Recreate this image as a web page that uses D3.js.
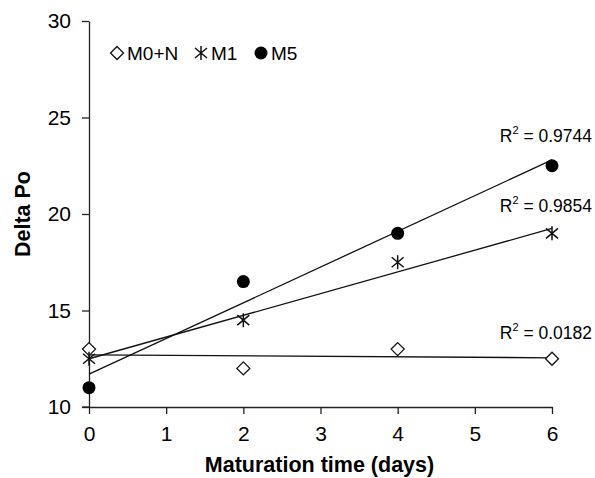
<!DOCTYPE html>
<html>
<head>
<meta charset="utf-8">
<script src="https://cdn.jsdelivr.net/npm/d3@7"></script>
<style>
  body { margin: 0; background: #fff; }
  text { font-family: Arial, "Liberation Sans", sans-serif; fill: #000; }
</style>
</head>
<body>
<div class="container"></div>
<script>
const w = 595;
const h = 478;
const margin = { top: 21, bottom: 71, left: 89, right: 43 };

const days = [0, 2, 4, 6];
const m0n = [13, 12, 13, 12.5];
const m1 = [12.5, 14.5, 17.5, 19];
const m5 = [11, 16.5, 19, 22.5];
const xTicks = [0, 1, 2, 3, 4, 5, 6];
const yTicks = [10, 15, 20, 25, 30];
const r2Labels = ['0.0182', '0.9854', '0.9744'];

const svg = d3.select('.container').append('svg')
    .attr('width', w)
    .attr('height', h);

const x = d3.scaleLinear().domain([0, 6]).range([margin.left, w - margin.right]);
const y = d3.scaleLinear().domain([10, 30]).range([h - margin.bottom, margin.top]);

// axes
const xAxis = svg.append('g')
    .attr('transform', `translate(0,${y(10)})`)
    .call(d3.axisBottom(x).tickValues(xTicks).tickFormat(d3.format('d'))
      .tickSize(7).tickSizeOuter(0).tickPadding(12));
const yAxis = svg.append('g')
    .attr('transform', `translate(${x(0)},0)`)
    .call(d3.axisLeft(y).tickValues(yTicks).tickFormat(d3.format('d'))
      .tickSize(7).tickSizeOuter(0).tickPadding(11));

[xAxis, yAxis].forEach(a => {
  a.attr('font-size', 21);
  a.selectAll('path, line').attr('stroke', '#222').attr('stroke-width', 1.3);
  a.selectAll('text').attr('font-size', 21).attr('fill', '#000');
});
// extend x axis line left to y tick length
svg.append('line')
    .attr('x1', x(0) - 7).attr('x2', x(0))
    .attr('y1', y(10)).attr('y2', y(10))
    .attr('stroke', '#222').attr('stroke-width', 1.3);

svg.append('text')
    .attr('x', x(3) - 1)
    .attr('y', 472)
    .attr('text-anchor', 'middle')
    .attr('font-size', 21.5)
    .attr('font-weight', 'bold')
    .text('Maturation time (days)');

svg.append('text')
    .attr('transform', `translate(30,${y(20)}) rotate(-90)`)
    .attr('text-anchor', 'middle')
    .attr('font-size', 21.5)
    .attr('font-weight', 'bold')
    .text('Delta Po');

// trend lines (least squares)
function fit(ys) {
  const mx = d3.mean(days), my = d3.mean(ys);
  const sxy = d3.sum(days, (d, i) => (d - mx) * (ys[i] - my));
  const sxx = d3.sum(days, d => (d - mx) * (d - mx));
  const b = sxy / sxx;
  return { a: my - b * mx, b: b };
}
const seriesList = [m0n, m1, m5];
seriesList.forEach(s => {
  const f = fit(s);
  svg.append('line')
    .attr('x1', x(0)).attr('y1', y(f.a))
    .attr('x2', x(6)).attr('y2', y(f.a + f.b * 6))
    .attr('stroke', '#111').attr('stroke-width', 1.3);
});

// markers
function diamond(g, cx, cy) {
  g.append('path')
    .attr('d', `M${cx},${cy - 6.5}L${cx + 6.5},${cy}L${cx},${cy + 6.5}L${cx - 6.5},${cy}Z`)
    .attr('fill', '#fff').attr('stroke', '#111').attr('stroke-width', 1.3);
}
function star(g, cx, cy) {
  const r = 7;
  g.append('path')
    .attr('d', `M${cx},${cy - r}V${cy + r}M${cx - 6},${cy - 5}L${cx + 6},${cy + 5}M${cx + 6},${cy - 5}L${cx - 6},${cy + 5}`)
    .attr('fill', 'none').attr('stroke', '#111').attr('stroke-width', 1.5);
}
function dot(g, cx, cy) {
  g.append('circle').attr('cx', cx).attr('cy', cy).attr('r', 6.5).attr('fill', '#000');
}

const marks = svg.append('g');
days.forEach((d, i) => {
  diamond(marks, x(d), y(m0n[i]));
  star(marks, x(d), y(m1[i]));
  dot(marks, x(d), y(m5[i]));
});

// R² labels
const r2Y = [339, 212, 142];
r2Labels.forEach((t, i) => {
  const tx = svg.append('text')
    .attr('x', 592)
    .attr('y', r2Y[i])
    .attr('text-anchor', 'end')
    .attr('font-size', 17.5);
  tx.append('tspan').text('R');
  tx.append('tspan').attr('font-size', 11).attr('dy', -8).text('2');
  tx.append('tspan').attr('dy', 8).text(' = ' + t);
});

// legend
const legendNames = ['M0+N', 'M1', 'M5'];
const legendX = [117, 201, 261];
const legendFns = [diamond, star, dot];
const leg = svg.append('g');
legendNames.forEach((n, i) => {
  legendFns[i](leg, legendX[i], 53);
  leg.append('text')
    .attr('x', legendX[i] + 10)
    .attr('y', 60)
    .attr('font-size', 19)
    .text(n);
});
</script>
</body>
</html>
